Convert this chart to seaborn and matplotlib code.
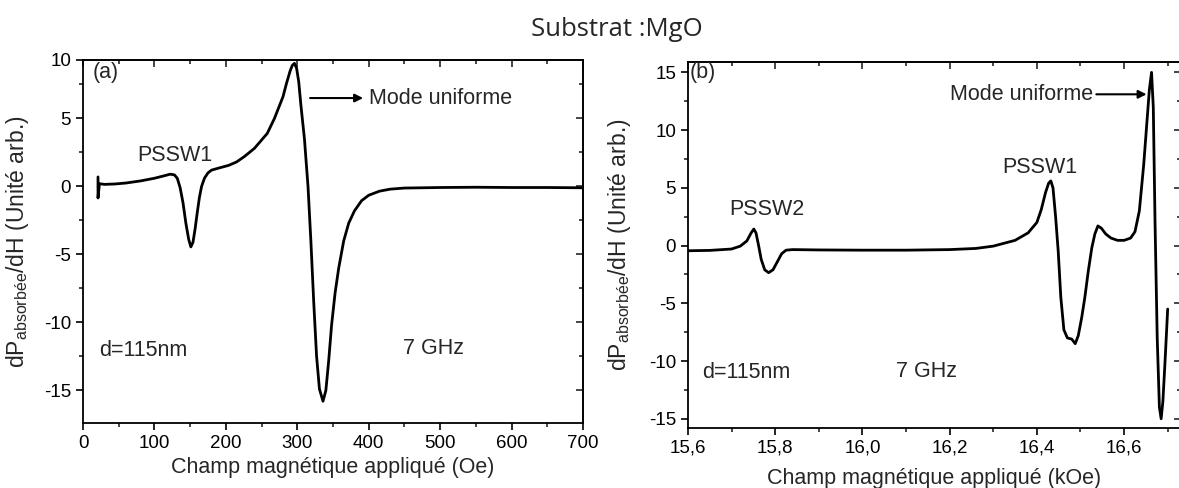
import numpy as np
import pandas as pd
import matplotlib
matplotlib.use("Agg")
import matplotlib.pyplot as plt
from matplotlib.ticker import MultipleLocator, FuncFormatter
import seaborn as sns

# panel (a): field in Oe, signal in arb. units
a_field = [21, 21, 23, 30, 45, 60, 80, 100, 115, 122, 128, 132, 136, 140, 144,
           148, 151, 154, 157, 160, 163, 166, 170, 175, 180, 190, 204, 215, 226,
           240, 258, 268, 280, 285, 290, 293, 296, 299, 302, 305, 310, 315, 319,
           323, 327, 331, 336, 340, 344, 348, 353, 358, 365, 372, 380, 390, 400,
           415, 430, 450, 500, 550, 600, 650, 700]
a_signal = [0.7, -0.85, 0.2, 0.15, 0.18, 0.25, 0.4, 0.6, 0.8, 0.9, 0.85, 0.6,
            -0.1, -1.2, -2.7, -3.9, -4.45, -4.1, -3.1, -1.9, -0.8, 0.0, 0.6, 1.0,
            1.2, 1.35, 1.55, 1.8, 2.2, 2.8, 3.9, 5.0, 6.6, 7.6, 8.5, 8.9, 9.05, 8.7,
            7.7, 6.0, 3.5, 0.0, -4.0, -8.5, -12.5, -14.9, -15.8, -15.0, -12.8,
            -10.2, -7.8, -6.0, -4.0, -2.7, -1.8, -1.05, -0.65, -0.35, -0.2, -0.12,
            -0.08, -0.06, -0.08, -0.08, -0.1]

# panel (b): field in kOe
b_field = [15.60, 15.65, 15.70, 15.72, 15.735, 15.745, 15.751, 15.756, 15.762,
           15.768, 15.776, 15.785, 15.795, 15.805, 15.815, 15.825, 15.84, 15.90,
           16.00, 16.10, 16.20, 16.26, 16.30, 16.35, 16.38, 16.40, 16.41, 16.42,
           16.427, 16.432, 16.437, 16.443, 16.449, 16.455, 16.462, 16.47, 16.48,
           16.488, 16.495, 16.503, 16.51, 16.518, 16.526, 16.533, 16.54, 16.548,
           16.558, 16.57, 16.585, 16.60, 16.615, 16.625, 16.635, 16.645, 16.652,
           16.658, 16.663, 16.667, 16.671, 16.676, 16.681, 16.685, 16.689,
           16.694, 16.70]
b_signal = [-0.45, -0.42, -0.3, -0.05, 0.4, 1.1, 1.43, 1.1, 0.0, -1.2, -2.1,
            -2.35, -2.1, -1.4, -0.7, -0.4, -0.35, -0.38, -0.4, -0.4, -0.35, -0.25,
            -0.05, 0.45, 1.1, 2.0, 3.1, 4.6, 5.4, 5.6, 5.0, 2.5, -0.5, -4.5, -7.3,
            -8.0, -8.1, -8.5, -7.8, -6.2, -4.5, -2.2, -0.2, 1.0, 1.7, 1.5, 1.0,
            0.65, 0.45, 0.45, 0.65, 1.2, 3.0, 7.0, 10.5, 13.5, 15.0, 12.0, 2.0,
            -8.0, -14.0, -15.0, -13.5, -10.0, -5.5]

ylabel = r'dP$_{\mathregular{absorbée}}$/dH (Unité arb.)'

sns.set_style("ticks")
plt.rcParams['font.family'] = ['Liberation Sans', 'DejaVu Sans']
plt.rcParams['axes.unicode_minus'] = False
plt.rcParams['mathtext.fontset'] = 'custom'
plt.rcParams['mathtext.rm'] = 'Liberation Sans'

fig = plt.figure(figsize=(11.79, 4.88), dpi=100)
ax_a = fig.add_axes([0.0704, 0.1332, 0.4241, 0.7439])
ax_b = fig.add_axes([0.5835, 0.1230, 0.4180, 0.7500])

TICK_FS = 13.5
LABEL_FS = 15.5
NOTE_FS = 15.5


def style_axes(ax, xmaj, xmin, ymaj, ymin):
    for s in ax.spines.values():
        s.set_linewidth(1.3)
        s.set_color('k')
    ax.xaxis.set_major_locator(MultipleLocator(xmaj))
    ax.xaxis.set_minor_locator(MultipleLocator(xmin))
    ax.yaxis.set_minor_locator(MultipleLocator(ymin))
    ax.tick_params(which='major', direction='out', length=5, width=1.2,
                   labelsize=TICK_FS, colors='k')
    ax.tick_params(which='minor', direction='out', length=3, width=1.2)
    top = ax.secondary_xaxis('top')
    top.xaxis.set_major_locator(MultipleLocator(xmaj))
    top.xaxis.set_minor_locator(MultipleLocator(xmin))
    top.tick_params(which='major', direction='in', length=5, width=1.2, labeltop=False)
    top.tick_params(which='minor', direction='in', length=3, width=1.2)
    top.spines['top'].set_linewidth(1.3)
    right = ax.secondary_yaxis('right')
    right.yaxis.set_major_locator(MultipleLocator(ymaj))
    right.yaxis.set_minor_locator(MultipleLocator(ymin))
    right.tick_params(which='major', direction='in', length=5, width=1.2, labelright=False)
    right.tick_params(which='minor', direction='in', length=3, width=1.2)
    right.spines['right'].set_linewidth(1.3)


# ---- panel (a)
sns.lineplot(x=a_field, y=a_signal, sort=False, estimator=None, color='k',
             linewidth=2.0, ax=ax_a)
ax_a.set_xlim(0, 700)
ax_a.set_ylim(-17.4, 9.3)
ax_a.set_yticks([-15, -10, -5, 0, 5, 9.3])
ax_a.set_yticklabels(['-15', '-10', '-5', '0', '5', '10'])
style_axes(ax_a, 100, 50, 5, 2.5)
ax_a.set_xlabel('Champ magnétique appliqué (Oe)', fontsize=LABEL_FS)
ax_a.xaxis.set_label_coords(0.5, -0.093)
ax_a.set_ylabel(ylabel, fontsize=16.5)
ax_a.yaxis.set_label_coords(-0.104, 0.5)
ax_a.text(14, 8.4, '(a)', fontsize=NOTE_FS, va='center')
ax_a.text(128, 2.3, 'PSSW1', fontsize=NOTE_FS, ha='center', va='center')
ax_a.annotate('', xy=(396, 6.5), xytext=(314, 6.5),
              arrowprops=dict(arrowstyle='-|>', color='k', lw=1.5, mutation_scale=12))
ax_a.text(400, 6.5, 'Mode uniforme', fontsize=NOTE_FS, va='center')
ax_a.text(22, -12.1, 'd=115nm', fontsize=NOTE_FS, va='center')
ax_a.text(448, -11.9, '7 GHz', fontsize=NOTE_FS, va='center')

# ---- panel (b)
sns.lineplot(x=b_field, y=b_signal, sort=False, estimator=None, color='k',
             linewidth=2.0, ax=ax_b)
ax_b.set_xlim(15.6, 16.73)
ax_b.set_ylim(-15.8, 15.9)
ax_b.set_yticks([-15, -10, -5, 0, 5, 10, 15])
style_axes(ax_b, 0.2, 0.1, 5, 2.5)
ax_b.xaxis.set_major_formatter(FuncFormatter(lambda v, p: f'{v:.1f}'.replace('.', ',')))
ax_b.set_xlabel('Champ magnétique appliqué (kOe)', fontsize=LABEL_FS)
ax_b.xaxis.set_label_coords(0.5, -0.108)
ax_b.set_ylabel(ylabel, fontsize=16.5)
ax_b.yaxis.set_label_coords(-0.112, 0.5)
ax_b.text(15.603, 15.0, '(b)', fontsize=NOTE_FS, va='center')
ax_b.text(15.78, 3.1, 'PSSW2', fontsize=NOTE_FS, ha='center', va='center')
ax_b.text(16.406, 6.8, 'PSSW1', fontsize=NOTE_FS, ha='center', va='center')
ax_b.annotate('', xy=(16.658, 13.1), xytext=(16.53, 13.1),
              arrowprops=dict(arrowstyle='-|>', color='k', lw=1.5, mutation_scale=12))
ax_b.text(16.528, 13.1, 'Mode uniforme', fontsize=NOTE_FS, ha='right', va='center')
ax_b.text(15.632, -11.0, 'd=115nm', fontsize=NOTE_FS, va='center')
ax_b.text(16.076, -10.9, '7 GHz', fontsize=NOTE_FS, va='center')

fig.text(0.523, 0.94, 'Substrat :MgO', fontsize=18.5, ha='center', va='center',
         family=['Open Sans', 'DejaVu Sans'])

fig.savefig('out.png', dpi=100)
